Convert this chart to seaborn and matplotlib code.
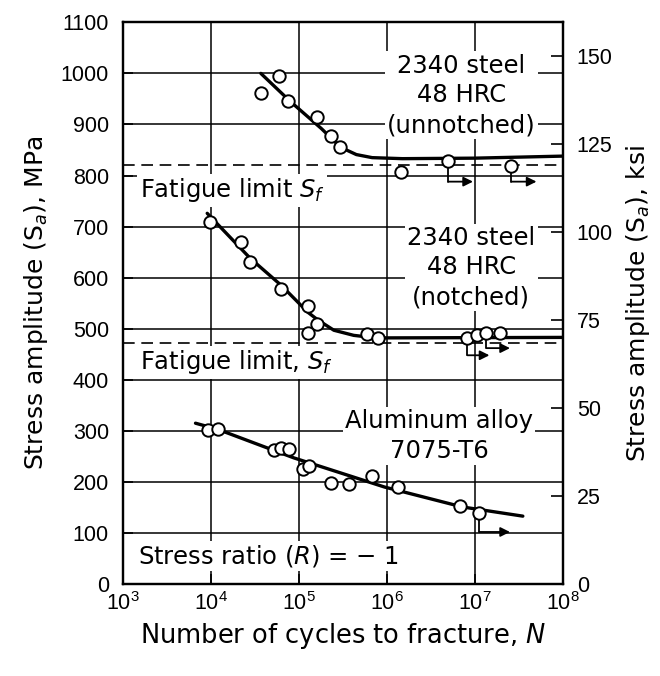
import numpy as np
import pandas as pd
import matplotlib.pyplot as plt
import seaborn as sns
from matplotlib.ticker import FixedLocator, LogFormatterMathtext, NullLocator

# 2340 steel, 48 HRC, unnotched
unn_n = [3.7e4, 5.9e4, 7.6e4, 1.6e5, 2.3e5, 2.9e5, 1.45e6, 5.0e6, 2.6e7]
unn_s = [961, 994, 945, 914, 877, 855, 806, 828, 818]
unn_fit_n = [3.7e4, 8e4, 1.8e5, 3.0e5, 4.5e5, 6.8e5, 1.5e6, 1e7, 1e8]
unn_fit_s = [1000, 945, 892, 855, 841, 835, 833, 834, 838]
unn_limit = 820

# 2340 steel, 48 HRC, notched
notch_n = [9.9e3, 2.2e4, 2.8e4, 6.3e4, 1.27e5, 1.6e5, 1.27e5, 5.9e5, 7.9e5,
           8.2e6, 1.06e7, 1.35e7, 1.95e7]
notch_s = [708, 669, 630, 577, 544, 509, 491, 489, 481, 481, 487, 491, 491]
notch_fit_n = [9.1e3, 2.8e4, 6.3e4, 1.27e5, 1.65e5, 2.5e5, 4.2e5, 7.5e5, 1e8]
notch_fit_s = [726, 638, 585, 532, 517, 497, 487, 482, 483]
notch_limit = 472

# aluminum alloy 7075-T6
al_n = [9.4e3, 1.22e4, 5.2e4, 6.3e4, 7.7e4, 1.12e5, 1.31e5, 2.3e5, 3.7e5,
        6.7e5, 1.33e6, 6.8e6, 1.12e7]
al_s = [301, 303, 262, 266, 264, 225, 231, 198, 196, 211, 190, 153, 139]
al_fit_n = [6.7e3, 1.2e4, 8.8e4, 9.4e5, 7.2e6, 3.5e7]
al_fit_s = [315, 303, 247, 190, 151, 133]

# run-outs: point (N, S), arrow level S, arrow end N
runout_n = [5.0e6, 2.6e7, 8.2e6, 1.35e7, 1.12e7]
runout_s = [828, 818, 481, 491, 139]
runout_low = [788, 788, 448, 462, 102]
runout_end = [9.5e6, 5.0e7, 1.46e7, 2.5e7, 2.5e7]

yticks_mpa = list(range(0, 1101, 100))
yticks_ksi = [0, 25, 50, 75, 100, 125, 150]
xticks = [1e3, 1e4, 1e5, 1e6, 1e7, 1e8]

sns.set_style("ticks")
# tick numbers in a condensed face, labels in DejaVu
plt.rcParams["font.family"] = ["Liberation Sans", "DejaVu Sans"]
plt.rcParams["mathtext.fontset"] = "dejavusans"
plt.rcParams["text.color"] = "black"
plt.rcParams["axes.labelcolor"] = "black"
lab_font = ["DejaVu Sans"]

fig = plt.figure(figsize=(6.6, 6.76), dpi=100)
ax = fig.add_axes([0.186, 0.136, 0.667, 0.831])
ax.set_xscale("log")
ax.set_xlim(1e3, 1e8)
ax.set_ylim(0, 1100)

ax.xaxis.set_major_locator(FixedLocator(xticks))
ax.xaxis.set_major_formatter(LogFormatterMathtext())
ax.xaxis.set_minor_locator(NullLocator())
ax.yaxis.set_major_locator(FixedLocator(yticks_mpa))
ax.grid(True, which="major", color="black", lw=1.1, zorder=0)

for sp in ax.spines.values():
    sp.set_linewidth(1.6)
    sp.set_color("black")
ax.tick_params(direction="in", length=7, width=1.2, labelsize=15.5, colors="black")
ax.tick_params(axis="x", pad=6)
ax.tick_params(axis="y", pad=10)

# fatigue limits
ax.axhline(unn_limit, color="black", lw=1.2, ls=(0, (7, 4)), zorder=1)
ax.axhline(notch_limit, color="black", lw=1.2, ls=(0, (7, 4)), zorder=1)

# fitted curves
for fn, fs in [(unn_fit_n, unn_fit_s), (notch_fit_n, notch_fit_s), (al_fit_n, al_fit_s)]:
    sns.lineplot(x=fn, y=fs, ax=ax, color="black", lw=2.4, sort=False,
                 estimator=None, zorder=3)

# run-out arrows
for n, s, lo, end in zip(runout_n, runout_s, runout_low, runout_end):
    ax.plot([n, n], [s, lo], color="black", lw=1.3, zorder=3)
    ax.annotate("", xy=(end, lo), xytext=(n, lo),
                arrowprops=dict(arrowstyle="-|>", color="black", lw=1.3,
                                mutation_scale=14, shrinkA=0, shrinkB=0),
                zorder=3)

# test points
for pn, ps in [(unn_n, unn_s), (notch_n, notch_s), (al_n, al_s)]:
    sns.scatterplot(x=pn, y=ps, ax=ax, s=80, facecolor="white",
                    edgecolor="black", linewidth=1.4, zorder=4)

box = dict(facecolor="white", edgecolor="none", pad=1.5)
fs_in = 17.5
ax.text(7.0e6, 957, "2340 steel\n48 HRC\n(unnotched)", ha="center", va="center",
        fontsize=fs_in, family=lab_font, linespacing=1.3, bbox=box, zorder=5)
ax.text(1.55e3, 771, "Fatigue limit $S_f$", ha="left", va="center",
        fontsize=fs_in, family=lab_font, bbox=box, zorder=5)
ax.text(9.1e6, 620, "2340 steel\n48 HRC\n(notched)", ha="center", va="center",
        fontsize=fs_in, family=lab_font, linespacing=1.3, bbox=box, zorder=5)
ax.text(1.55e3, 434, "Fatigue limit, $S_f$", ha="left", va="center",
        fontsize=fs_in, family=lab_font, bbox=box, zorder=5)
ax.text(3.9e6, 290, "Aluminum alloy\n7075-T6", ha="center", va="center",
        fontsize=fs_in, family=lab_font, linespacing=1.3, bbox=box, zorder=5)
ax.text(1.5e3, 55, "Stress ratio ($R$) = \u2212 1", ha="left", va="center",
        fontsize=fs_in, family=lab_font, bbox=box, zorder=5)

ax.set_xlabel("Number of cycles to fracture, $N$", fontsize=18.5,
              family=lab_font, labelpad=4)
ax.set_ylabel("Stress amplitude (S$_a$), MPa", fontsize=18,
              family=lab_font, labelpad=8)

ax2 = ax.twinx()
ax2.set_ylim(0, 1100 / 6.895)
ax2.yaxis.set_major_locator(FixedLocator(yticks_ksi))
ax2.tick_params(direction="in", length=9, width=1.2, labelsize=15.5, colors="black", pad=10)
ax2.set_ylabel("Stress amplitude (S$_a$), ksi", fontsize=18,
               family=lab_font, labelpad=8)
for sp in ax2.spines.values():
    sp.set_linewidth(1.6)
    sp.set_color("black")
ax2.grid(False)

fig.savefig("out.png", dpi=100, facecolor="white")
